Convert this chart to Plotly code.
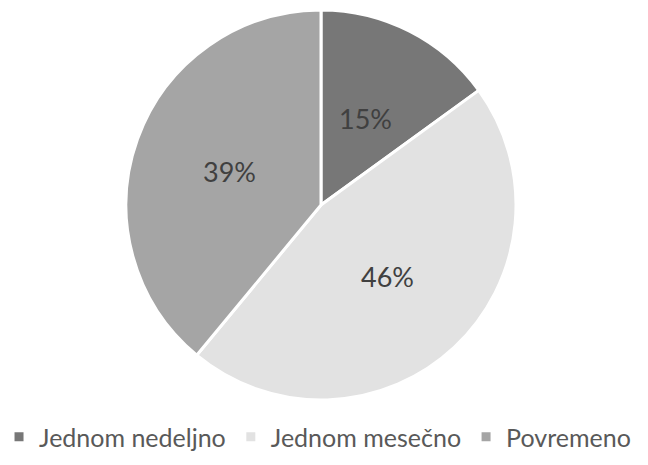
import math
import plotly.graph_objects as go

# Survey answer categories and their shares (percent)
categories = ["Jednom nedeljno", "Jednom mesečno", "Povremeno"]
shares = [15, 46, 39]
colors = ["#777777", "#e2e2e2", "#a5a5a5"]

W, H = 648, 465

# Pie placement in paper coordinates
dom_x = [126 / W, 516 / W]
dom_y = [(H - 400) / H, (H - 10) / H]

fig = go.Figure(
    go.Pie(
        labels=categories,
        values=shares,
        sort=False,
        direction="clockwise",
        rotation=0,
        marker=dict(colors=colors, line=dict(color="white", width=3)),
        textinfo="none",
        hoverinfo="label+percent",
        domain=dict(x=dom_x, y=dom_y),
    )
)

# Percentage labels sit halfway out along each slice's middle angle
cx_px = (dom_x[0] + dom_x[1]) / 2 * W
cy_px = (dom_y[0] + dom_y[1]) / 2 * H
radius_px = min((dom_x[1] - dom_x[0]) * W, (dom_y[1] - dom_y[0]) * H) / 2
total = sum(shares)
cum = 0
annotations = []
for val in shares:
    mid = (cum + val / 2) / total * 2 * math.pi
    cum += val
    px = cx_px + 0.5 * radius_px * math.sin(mid)
    py = cy_px + 0.5 * radius_px * math.cos(mid)
    annotations.append(
        dict(
            x=px / W,
            y=py / H,
            xref="paper",
            yref="paper",
            xanchor="center",
            yanchor="middle",
            text=f"{round(val / total * 100)}%",
            showarrow=False,
            font=dict(family="Lato", size=27, color="#404040"),
        )
    )

fig.update_layout(
    width=W,
    height=H,
    margin=dict(l=0, r=0, t=0, b=0, autoexpand=False),
    paper_bgcolor="white",
    plot_bgcolor="white",
    annotations=annotations,
    showlegend=True,
    legend=dict(
        orientation="h",
        x=0.49,
        xanchor="center",
        y=(H - 437) / H,
        yanchor="middle",
        itemwidth=30,
        font=dict(family="Lato", size=25, color="#595959"),
        traceorder="normal",
    ),
)

fig.write_html("out.html")
